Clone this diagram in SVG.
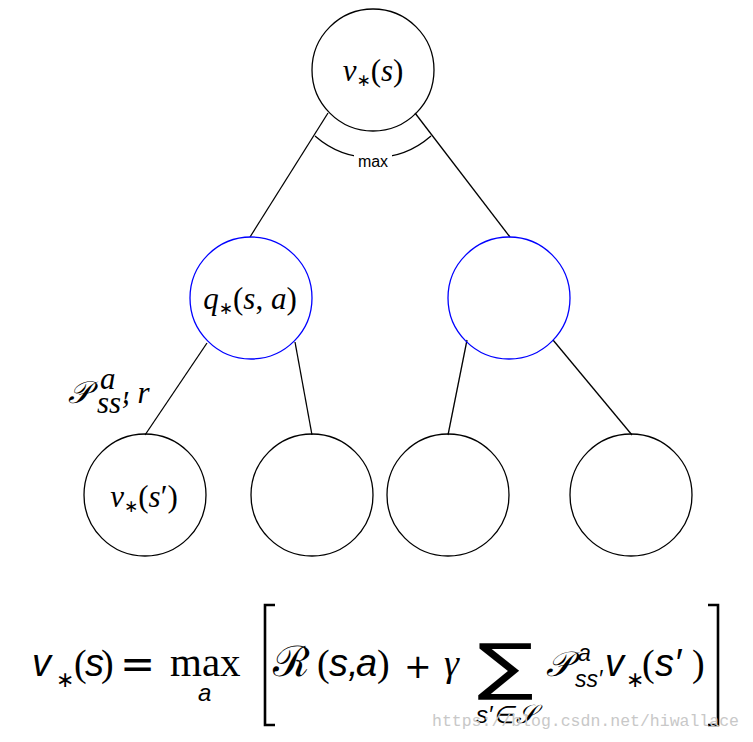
<svg xmlns="http://www.w3.org/2000/svg" width="753" height="742" viewBox="0 0 753 742">
<style>
.n{fill:none;stroke:#000;stroke-width:1.3}
.b{fill:none;stroke:#0000ff;stroke-width:1.3}
.e{stroke:#000;stroke-width:1.3;fill:none}
.t{font-family:"Liberation Serif",serif;font-style:italic;font-size:31px;fill:#000}
.u{font-style:normal}
.s{font-family:"Liberation Sans",sans-serif;font-style:italic;fill:#000}
.r{font-family:"Liberation Serif",serif;fill:#000}
.d{font-family:"DejaVu Sans",sans-serif;fill:#000}
</style>
<rect width="753" height="742" fill="#fff"/>
<g id="connectors">
<line class="e" x1="328" y1="113" x2="250" y2="237"/>
<line class="e" x1="415" y1="113" x2="510" y2="237"/>
<line class="e" x1="207" y1="343" x2="145" y2="435"/>
<line class="e" x1="295" y1="342" x2="312" y2="435"/>
<line class="e" x1="467" y1="340" x2="448" y2="435"/>
<line class="e" x1="553" y1="340" x2="632" y2="435"/>
<path class="e" d="M315,136 A88,88 0 0 0 431,136"/>
<rect x="354" y="150" width="38" height="18" fill="#fff"/>
<text x="373" y="167" text-anchor="middle" font-family="Liberation Sans,sans-serif" font-size="16">max</text>
</g>
<g id="root">
<circle class="n" cx="373" cy="70" r="61"/>
<text class="t" x="373" y="81" text-anchor="middle">v<tspan class="d" font-style="normal" font-size="17" dy="5">∗</tspan><tspan class="u" dy="-5">(</tspan>s<tspan class="u">)</tspan></text>
</g>
<g id="q1">
<circle class="b" cx="251" cy="298" r="61"/>
<text class="t" x="250" y="309" text-anchor="middle">q<tspan class="d" font-style="normal" font-size="17" dy="5">∗</tspan><tspan class="u" dy="-5">(</tspan>s<tspan class="u">, </tspan>a<tspan class="u">)</tspan></text>
</g>
<g id="q2">
<circle class="b" cx="509" cy="298" r="61"/>
</g>
<g id="leaf1">
<circle class="n" cx="145" cy="495" r="61"/>
<text class="t" x="144" y="507" text-anchor="middle">v<tspan class="d" font-style="normal" font-size="17" dy="5">∗</tspan><tspan class="u" dy="-5">(</tspan>s<tspan class="u">′)</tspan></text>
</g>
<g id="leaf2"><circle class="n" cx="312" cy="495" r="61"/></g>
<g id="leaf3"><circle class="n" cx="448" cy="495" r="61"/></g>
<g id="leaf4"><circle class="n" cx="631" cy="495" r="61"/></g>
<g id="edge-label">
<text class="t" x="68" y="403" font-size="27">𝒫</text>
<text class="t" x="100" y="389" font-size="17">a</text>
<text class="t" x="97" y="413" font-size="17">ss′</text>
<text class="t" x="122" y="403">, r</text>
</g>
<g id="equation">
<text class="s" x="32" y="676" font-size="38">v</text>
<text class="d" x="56" y="687" font-size="22">∗</text>
<text class="r" x="74" y="676" font-size="38">(</text>
<text class="s" x="85" y="676" font-size="38">s</text>
<text class="r" x="101" y="676" font-size="38">)</text>
<text class="d" x="120" y="678" font-size="42">=</text>
<text class="r" x="170" y="676" font-size="41">max</text>
<text class="s" x="198" y="701" font-size="24">a</text>
<path d="M275,605 H265 V725 H275" fill="none" stroke="#000" stroke-width="2.6"/>
<text x="273" y="676" font-family="DejaVu Serif,serif" font-size="42" fill="#000">ℛ</text>
<text class="r" x="317" y="676" font-size="38">(</text>
<text class="s" x="329" y="676" font-size="38">s,</text>
<text class="s" x="356" y="676" font-size="38">a</text>
<text class="r" x="377" y="676" font-size="38">)</text>
<text class="d" x="404" y="678" font-size="33">+</text>
<text class="r" x="444" y="676" font-size="38" font-style="italic">γ</text>
<text class="d" font-size="62" transform="translate(477,688) scale(1.35,1)">∑</text>
<text class="s" x="476" y="723" font-size="24">s′∈</text>
<text x="516" y="723" font-family="Liberation Serif,serif" font-style="italic" font-size="26" fill="#000">𝒮</text>
<text x="546" y="676" font-family="Liberation Serif,serif" font-style="italic" font-size="35" fill="#000">𝒫</text>
<text class="s" x="578" y="661" font-size="23">a</text>
<text class="s" x="575" y="687" font-size="23">ss′</text>
<text class="s" x="605" y="676" font-size="38">v</text>
<text class="d" x="626" y="687" font-size="22">∗</text>
<text class="r" x="642" y="676" font-size="38">(</text>
<text class="s" x="655" y="676" font-size="38">s′</text>
<text class="r" x="692" y="676" font-size="38">)</text>
<path d="M708,605 H718 V725 H708" fill="none" stroke="#000" stroke-width="2.6"/>
</g>
<text x="432" y="726" font-family="Liberation Mono,monospace" font-size="16.5" fill="#c8c8c8">https://blog.csdn.net/hiwallace</text>
</svg>
